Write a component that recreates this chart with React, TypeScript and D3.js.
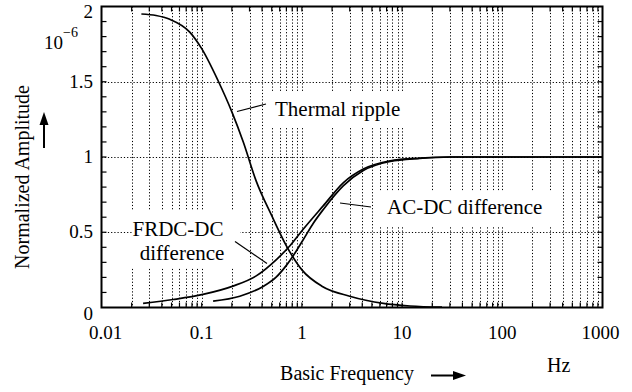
// Chart drawn through a ref with d3 (rev 9)
import { useEffect, useRef } from "react";
import * as d3 from "d3";

// Thermal ripple
const thermalFreq = [0.025, 0.035, 0.048, 0.076, 0.1, 0.145, 0.2, 0.26, 0.35, 0.5, 0.7, 1.0, 1.6, 3.0, 6.5, 12, 25];
const thermalVal = [1.95, 1.94, 1.915, 1.83, 1.72, 1.51, 1.3, 1.1, 0.84, 0.61, 0.41, 0.25, 0.14, 0.075, 0.027, 0.01, 0.002];

// FRDC-DC difference
const frdcFreq = [0.026, 0.052, 0.103, 0.205, 0.35, 0.56, 0.76, 1.03, 1.63, 2.6, 4.1, 7.6, 15, 30, 100, 1000];
const frdcVal = [0.027, 0.053, 0.087, 0.142, 0.21, 0.32, 0.41, 0.52, 0.675, 0.83, 0.92, 0.975, 0.993, 1.0, 1.0, 1.0];

// AC-DC difference
const acdcFreq = [0.13, 0.24, 0.41, 0.55, 0.7, 0.85, 1.03, 1.3, 1.63, 2.6, 4.1, 7.6, 15, 30, 100, 1000];
const acdcVal = [0.042, 0.075, 0.14, 0.2, 0.28, 0.36, 0.45, 0.56, 0.65, 0.81, 0.91, 0.97, 0.99, 1.0, 1.0, 1.0];

const xTickValues = [0.01, 0.1, 1, 10, 100, 1000];
const xTickLabels = ["0.01", "0.1", "1", "10", "100", "1000"];
const yTickValues = [0, 0.5, 1, 1.5, 2];
const yTickLabels = ["0", "0.5", "1", "1.5", "2"];
const yGridValues = [0.5, 1, 1.5];

const W = 632;
const H = 392;
const FONT = "Liberation Serif";

export default function App() {
  const ref = useRef<SVGSVGElement | null>(null);

  useEffect(() => {
    const svg = d3.select(ref.current);
    svg.selectAll("*").remove();

    const x = d3.scaleLog().domain([0.01, 1000]).range([101.5, 602.5]);
    const y = d3.scaleLinear().domain([0, 2]).range([307.5, 6.5]);
    const [x0, x1] = x.range();
    const [yb, yt] = y.range();

    svg.append("rect").attr("width", W).attr("height", H).attr("fill", "#fff");

    const minorX: number[] = [];
    for (let e = -2; e < 3; e++) {
      for (let m = 1; m <= 9; m++) {
        const v = m * Math.pow(10, e);
        if (v > 0.010001) minorX.push(v);
      }
    }
    const yMinor = d3.range(1, 20).map((i) => i / 10);

    const grid = svg.append("g").attr("stroke", "#000").attr("stroke-width", 1).attr("stroke-dasharray", "1.2,2");
    grid.selectAll("line.gx").data(minorX).join("line")
      .attr("x1", (d) => Math.round(x(d)) + 0.5).attr("x2", (d) => Math.round(x(d)) + 0.5)
      .attr("y1", yt).attr("y2", yb);
    grid.selectAll("line.gy").data(yGridValues).join("line")
      .attr("x1", x0).attr("x2", x1)
      .attr("y1", (d) => Math.round(y(d)) + 0.5).attr("y2", (d) => Math.round(y(d)) + 0.5);

    const bg = svg.append("g").attr("fill", "#fff");
    [[268, 92, 136, 36], [132, 210, 108, 57], [378, 191, 176, 36]].forEach(([a, b, c, d]) =>
      bg.append("rect").attr("x", a).attr("y", b).attr("width", c).attr("height", d)
    );

    const ticks = svg.append("g").attr("stroke", "#000").attr("stroke-width", 1.2);
    minorX.forEach((v) => {
      ticks.append("line").attr("x1", x(v)).attr("x2", x(v)).attr("y1", yb).attr("y2", yb - 5);
      ticks.append("line").attr("x1", x(v)).attr("x2", x(v)).attr("y1", yt).attr("y2", yt + 5);
    });
    yMinor.forEach((v) => {
      ticks.append("line").attr("x1", x0).attr("x2", x0 + 5).attr("y1", y(v)).attr("y2", y(v));
      ticks.append("line").attr("x1", x1).attr("x2", x1 - 5).attr("y1", y(v)).attr("y2", y(v));
    });

    const line = d3.line<[number, number]>().x((d) => x(d[0])).y((d) => y(d[1])).curve(d3.curveMonotoneX);
    const zip = (f: number[], v: number[]) => f.map((fi, i) => [fi, v[i]] as [number, number]);
    const curves = svg.append("g").attr("fill", "none").attr("stroke", "#000").attr("stroke-width", 1.7);
    [zip(thermalFreq, thermalVal), zip(frdcFreq, frdcVal), zip(acdcFreq, acdcVal)].forEach((d) =>
      curves.append("path").attr("d", line(d) || "")
    );

    svg.append("rect").attr("x", x0).attr("y", yt).attr("width", x1 - x0).attr("height", yb - yt)
      .attr("fill", "none").attr("stroke", "#000").attr("stroke-width", 2);

    const leaders = svg.append("g").attr("stroke", "#000").attr("stroke-width", 1.2);
    [[237, 111.5, 266, 104], [235, 241.5, 267, 263.5], [340, 203, 371, 207]].forEach(([a, b, c, d]) =>
      leaders.append("line").attr("x1", a).attr("y1", b).attr("x2", c).attr("y2", d)
    );

    const txt = (s: string, px: number, tx: number, ty: number, anchor = "start") =>
      svg.append("text").attr("x", tx).attr("y", ty).attr("text-anchor", anchor)
        .attr("fill", "#000").attr("font-family", FONT).style("font-family", FONT).style("font-size", px + "px").text(s);

    txt("Thermal ripple", 21, 275, 116);
    txt("AC-DC difference", 21, 387, 214);
    txt("FRDC-DC", 21, 178, 236, "middle");
    txt("difference", 21, 182, 260, "middle");

    xTickValues.forEach((v, i) =>
      txt(xTickLabels[i], 19, x(v) + (i === 0 ? 4 : i === 5 ? -2 : 0), 339, "middle")
    );
    yTickValues.forEach((v, i) =>
      txt(yTickLabels[i], 19, 93, y(v) + (i === 0 ? 12 : i === 4 ? 11 : 6), "end")
    );

    const exp = txt("10", 19, 44, 49);
    exp.append("tspan").attr("dy", -12).style("font-size", "14px").text("−6");

    txt("Hz", 20, 547, 372);
    txt("Basic Frequency", 20, 347, 380, "middle");
    svg.append("line").attr("x1", 431).attr("y1", 375.5).attr("x2", 456).attr("y2", 375.5)
      .attr("stroke", "#000").attr("stroke-width", 2);
    svg.append("path").attr("d", "M 466 375.5 L 453 371 L 453 380 Z").attr("fill", "#000");

    txt("Normalized Amplitude", 20, 0, 0, "middle").attr("x", null).attr("y", null)
      .attr("transform", "translate(29,177) rotate(-90)");
    svg.append("line").attr("x1", 44).attr("y1", 148).attr("x2", 44).attr("y2", 122)
      .attr("stroke", "#000").attr("stroke-width", 2);
    svg.append("path").attr("d", "M 44 112 L 39.5 125 L 48.5 125 Z").attr("fill", "#000");
  }, []);

  return (
    <svg ref={ref} width={W} height={H} style={{ position: "absolute", left: 0, top: 0, background: "#fff" }} />
  );
}
